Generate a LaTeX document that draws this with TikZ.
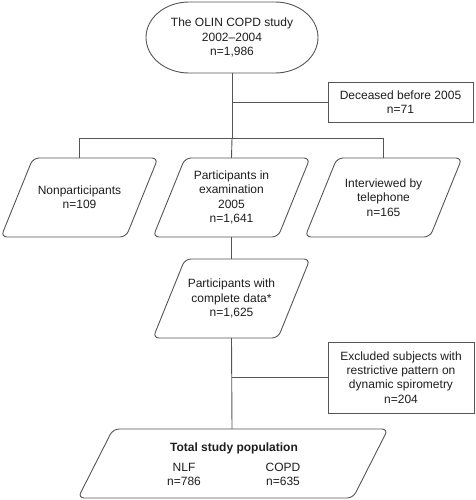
\documentclass[tikz,border=0pt]{standalone}
\usepackage{fontspec}
\setmainfont{Liberation Sans}
\definecolor{lc}{HTML}{555555}
\definecolor{tc}{HTML}{1E1E1E}
\begin{document}
\begin{tikzpicture}[x=1pt,y=-1pt,
  every node/.style={font=\fontsize{12}{14.3}\selectfont, text=tc, align=center, inner sep=0pt},
  shp/.style={draw=lc, line width=0.9pt, rounded corners=6pt},
  link/.style={draw=lc, line width=0.9pt}]
\useasboundingbox (0,0) rectangle (475,500);
% top stadium
\draw[draw=lc, line width=0.9pt] (189,2) -- (275,2) arc[start angle=90, end angle=-90, x radius=43pt, y radius=35.5pt] -- (189,73) arc[start angle=270, end angle=90, x radius=43pt, y radius=35.5pt] -- cycle;
\node[minimum width=173pt, minimum height=71pt] (top) at (232,37.5) {The OLIN COPD study\\2002--2004\\n=1,986};
% deceased
\node[draw=lc, line width=0.9pt, minimum width=145pt, minimum height=40pt] (dec) at (400.5,102) {Deceased before 2005\\n=71};
% row shapes
\draw[shp] (33,158) -- (158,158) -- (126,237) -- (1,237) -- cycle;
\draw[shp] (185,158) -- (310,158) -- (278,237) -- (153,237) -- cycle;
\draw[shp] (337,158) -- (462,158) -- (430,237) -- (305,237) -- cycle;
\node[minimum width=125pt, minimum height=79pt] (np) at (79.5,197.5) {Nonparticipants\\n=109};
\node[minimum width=125pt, minimum height=79pt] (pe) at (231.5,197.5) {Participants in\\examination\\2005\\n=1,641};
\node[minimum width=125pt, minimum height=79pt] (tel) at (383.5,197.5) {Interviewed by\\telephone\\n=165};
% complete data
\draw[shp] (185,259) -- (310,259) -- (278,338) -- (153,338) -- cycle;
\node[minimum width=125pt, minimum height=79pt] (cd) at (231.5,298.5) {Participants with\\complete data*\\n=1,625};
% excluded
\node[draw=lc, line width=0.9pt, minimum width=146pt, minimum height=71pt] (exc) at (401,377.5) {Excluded subjects with\\restrictive pattern on\\dynamic spirometry\\n=204};
% total
\draw[shp] (113,429) -- (388,429) -- (353,498) -- (78,498) -- cycle;
\node[minimum width=275pt, minimum height=69pt] (tot) at (233,463.5) {};
\node (totl) at (234,448) {\textbf{Total study population}};
\node (nlf) at (184,474.5) {NLF\\n=786};
\node (copd) at (283,474.5) {COPD\\n=635};
% connectors
\coordinate (bar) at (232,138);
\coordinate (barl) at (79.5,138);
\coordinate (barr) at (383.5,138);
\draw[link] (top.south) -- (bar);
\draw[link] (232,102) -- (dec.west);
\draw[link] (barl) -- (barr);
\draw[link] (barl) -- (np.north);
\draw[link] (bar) -- (pe.north);
\draw[link] (barr) -- (tel.north);
\draw[link] (pe.south) -- (cd.north);
\draw[link] (cd.south) -- (232,429);
\draw[link] (232,377.5) -- (exc.west);
\end{tikzpicture}
\end{document}
